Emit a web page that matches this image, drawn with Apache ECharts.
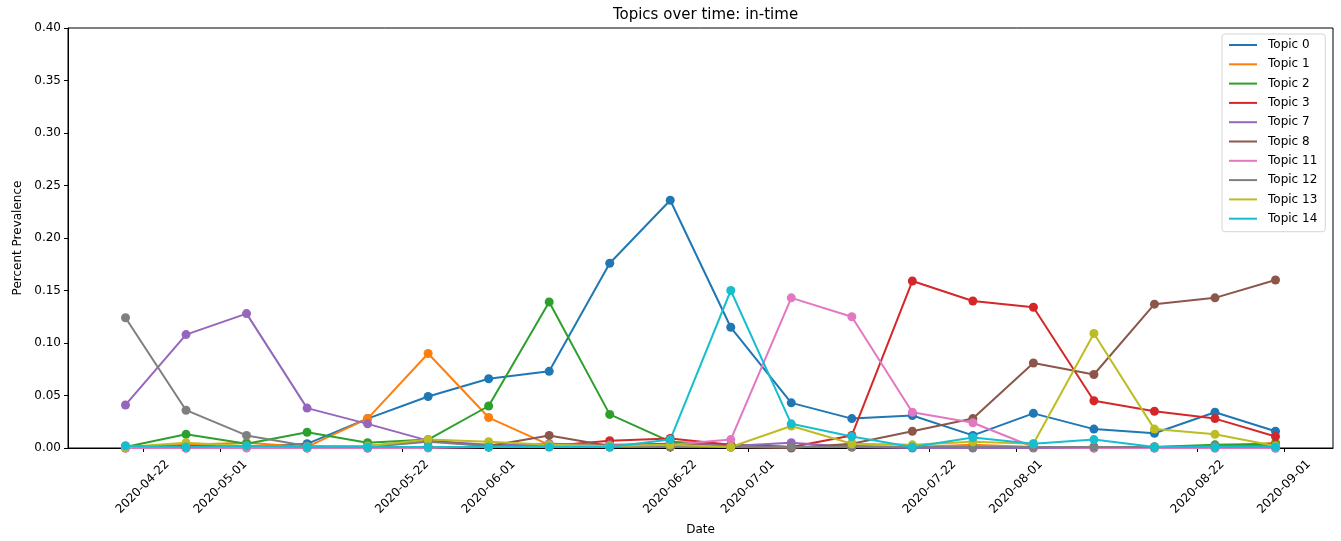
<!DOCTYPE html>
<html>
<head>
<meta charset="utf-8">
<title>Topics over time: in-time</title>
<script src="https://cdn.jsdelivr.net/npm/echarts@6/dist/echarts.min.js"></script>
<style>
  html, body { margin: 0; padding: 0; background: #fff; }
  #chart { width: 1341px; height: 541px; }
</style>
</head>
<body>
<div id="chart"></div>
<script>
// Weekly sample dates
const dates = ['2020-04-20','2020-04-27','2020-05-04','2020-05-11','2020-05-18','2020-05-25',
  '2020-06-01','2020-06-08','2020-06-15','2020-06-22','2020-06-29','2020-07-06','2020-07-13',
  '2020-07-20','2020-07-27','2020-08-03','2020-08-10','2020-08-17','2020-08-24','2020-08-31'];

// Date tick labels on the x axis
const tickDates = ['2020-04-22','2020-05-01','2020-05-22','2020-06-01','2020-06-22',
  '2020-07-01','2020-07-22','2020-08-01','2020-08-22','2020-09-01'];

const topicNames = ['Topic 0','Topic 1','Topic 2','Topic 3','Topic 7','Topic 8','Topic 11','Topic 12','Topic 13','Topic 14'];

// Prevalence of each topic per week
const topic0  = [0.002,0.001,0.001,0.004,0.028,0.049,0.066,0.073,0.176,0.236,0.115,0.043,0.028,0.031,0.012,0.033,0.018,0.014,0.034,0.016];
const topic1  = [0.001,0.003,0.005,0.001,0.028,0.090,0.029,0.003,0.001,0.001,0.002,0.001,0.001,0.001,0.003,0.001,0.001,0.001,0.001,0.005];
const topic2  = [0.001,0.013,0.004,0.015,0.005,0.008,0.040,0.139,0.032,0.006,0.003,0.001,0.002,0.001,0.001,0.001,0.001,0.001,0.003,0.004];
const topic3  = [0.000,0.000,0.001,0.000,0.000,0.001,0.001,0.002,0.007,0.009,0.003,0.001,0.012,0.159,0.140,0.134,0.045,0.035,0.028,0.011];
const topic7  = [0.041,0.108,0.128,0.038,0.023,0.007,0.003,0.004,0.003,0.004,0.002,0.005,0.001,0.000,0.000,0.000,0.000,0.000,0.000,0.000];
const topic8  = [0.001,0.002,0.002,0.001,0.002,0.007,0.002,0.012,0.002,0.004,0.001,0.000,0.004,0.016,0.028,0.081,0.070,0.137,0.143,0.160];
const topic11 = [0.000,0.000,0.000,0.000,0.000,0.000,0.001,0.001,0.002,0.003,0.008,0.143,0.125,0.034,0.024,0.001,0.000,0.000,0.000,0.000];
const topic12 = [0.124,0.036,0.012,0.002,0.001,0.006,0.002,0.002,0.001,0.001,0.001,0.001,0.001,0.001,0.001,0.001,0.001,0.001,0.002,0.002];
const topic13 = [0.001,0.005,0.002,0.001,0.002,0.008,0.006,0.003,0.002,0.003,0.001,0.021,0.004,0.003,0.006,0.004,0.109,0.018,0.013,0.002];
const topic14 = [0.002,0.001,0.002,0.001,0.001,0.001,0.001,0.001,0.001,0.008,0.150,0.023,0.011,0.001,0.010,0.004,0.008,0.001,0.001,0.001];

const topicValues = [topic0, topic1, topic2, topic3, topic7, topic8, topic11, topic12, topic13, topic14];
const colors = ['#1f77b4','#ff7f0e','#2ca02c','#d62728','#9467bd','#8c564b','#e377c2','#7f7f7f','#bcbd22','#17becf'];

const FONT = '"DejaVu Sans", sans-serif';

function toTime(s) {
  const p = s.split('-').map(Number);
  return Date.UTC(p[0], p[1] - 1, p[2]);
}
function pad(n) { return n < 10 ? '0' + n : '' + n; }
function fmtDate(v) {
  const d = new Date(v);
  return d.getUTCFullYear() + '-' + pad(d.getUTCMonth() + 1) + '-' + pad(d.getUTCDate());
}

// 5% padding on both ends of the date range
const tFirst = toTime(dates[0]);
const tLast = toTime(dates[dates.length - 1]);
const span = tLast - tFirst;
const xMin = tFirst - span * 0.05;
const xMax = tLast + span * 0.05;
const tickTimes = tickDates.map(toTime);

const series = topicNames.map((name, i) => ({
  name: name,
  type: 'line',
  data: dates.map((d, j) => [toTime(d), topicValues[i][j]]),
  symbol: 'circle',
  symbolSize: 9,
  showAllSymbol: true,
  lineStyle: { width: 2, color: colors[i] },
  itemStyle: { color: colors[i] },
  emphasis: { disabled: true }
}));

const chart = echarts.init(document.getElementById('chart'), null, { renderer: 'canvas' });
chart.setOption({
  animation: false,
  backgroundColor: '#ffffff',
  textStyle: { fontFamily: FONT },
  title: {
    text: 'Topics over time: in-time',
    left: 700.5,
    textAlign: 'center',
    top: 3,
    textStyle: { fontFamily: FONT, fontSize: 15, fontWeight: 'normal', color: '#000' }
  },
  legend: {
    orient: 'vertical',
    left: 1222,
    top: 34,
    padding: [4, 8, 6, 7],
    itemGap: 5.3,
    itemWidth: 28,
    itemHeight: 2,
    icon: 'rect',
    backgroundColor: 'rgba(255,255,255,0.8)',
    borderColor: '#d5d5d5',
    borderWidth: 1,
    borderRadius: 3,
    selectedMode: false,
    textStyle: { fontFamily: FONT, fontSize: 12, color: '#000', lineHeight: 14, padding: [0, 0, 0, 6] },
    data: topicNames
  },
  grid: {
    left: 68, right: 8, top: 28, bottom: 93,
    show: true, borderColor: '#000', borderWidth: 1, backgroundColor: 'transparent',
    containLabel: false
  },
  xAxis: {
    type: 'value',
    min: xMin,
    max: xMax,
    scale: true,
    name: 'Date',
    nameLocation: 'middle',
    nameGap: 76,
    nameTextStyle: { fontFamily: FONT, fontSize: 12, color: '#000' },
    axisLine: { show: true, lineStyle: { color: '#000', width: 1 } },
    axisTick: { show: true, length: 4, lineStyle: { color: '#000' }, customValues: tickTimes },
    axisLabel: {
      customValues: tickTimes,
      formatter: fmtDate,
      rotate: 45,
      align: 'center',
      verticalAlign: 'middle',
      margin: 39,
      fontFamily: FONT,
      fontSize: 12,
      color: '#000'
    },
    splitLine: { show: false }
  },
  yAxis: {
    type: 'value',
    min: 0,
    max: 0.4,
    interval: 0.05,
    name: 'Percent Prevalence',
    nameLocation: 'middle',
    nameGap: 44,
    nameTextStyle: { fontFamily: FONT, fontSize: 12, color: '#000' },
    axisLine: { show: true, lineStyle: { color: '#000', width: 1 } },
    axisTick: { show: true, length: 4, lineStyle: { color: '#000' } },
    axisLabel: {
      formatter: v => v.toFixed(2),
      margin: 7,
      fontFamily: FONT,
      fontSize: 12,
      color: '#000'
    },
    splitLine: { show: false }
  },
  series: series
});
</script>
</body>
</html>
